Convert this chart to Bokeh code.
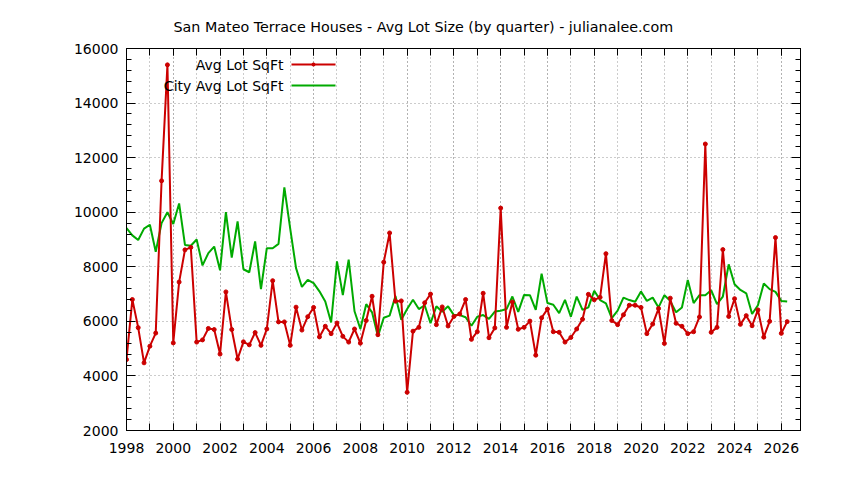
from bokeh.plotting import figure
from bokeh.models import (Range1d, LinearAxis, FixedTicker, Label, Arrow,
                          BoxAnnotation, CustomJSTickFormatter, Title)
from bokeh.embed import file_html
from bokeh.resources import INLINE

TITLE = "San Mateo Terrace Houses - Avg Lot Size (by quarter) - julianalee.com"
SERIES1 = "Avg Lot SqFt"
SERIES2 = "City Avg Lot SqFt"

start_year = 1998
quarter_step = 0.25

avg_lot = [4600, 6800, 5770, 4480, 5090, 5570, 11150, 15400, 5210, 7440,
           8620, 8710, 5240, 5320, 5740, 5700, 4800, 7080, 5700, 4620,
           5250, 5140, 5590, 5120, 5720, 7490, 5980, 5980, 5120, 6520,
           5680, 6170, 6510, 5430, 5820, 5550, 5940, 5450, 5240, 5720,
           5200, 6030, 6920, 5510, 8170, 9240, 6740, 6750, 3400, 5640,
           5780, 6680, 7000, 5880, 6530, 5830, 6180, 6270, 6800, 5340,
           5620, 7030, 5400, 5760, 10150, 5780, 6710, 5710, 5780, 6010,
           4760, 6130, 6450, 5620, 5600, 5240, 5410, 5720, 6080, 6990,
           6790, 6880, 8480, 6030, 5880, 6240, 6590, 6590, 6510, 5550,
           5900, 6470, 5190, 6850, 5930, 5820, 5550, 5620, 6160, 12500,
           5600, 5780, 8630, 6180, 6830, 5890, 6210, 5840, 6420, 5420,
           6000, 9070, 5560, 5990]

city_avg_lot = [9420, 9150, 8980, 9400, 9540, 8550, 9600, 10000, 9570, 10320,
                8800, 8770, 9000, 8050, 8500, 8740, 7870, 10000, 8340, 9660,
                7910, 7800, 8930, 7180, 8680, 8680, 8840, 10910, 9400, 7950,
                7260, 7520, 7400, 7100, 6730, 5960, 8200, 6960, 8260, 6370,
                5720, 6630, 6330, 5450, 6130, 6210, 6930, 6060, 6450, 6790,
                6450, 6590, 5930, 6550, 6350, 6550, 6230, 6230, 6150, 5840,
                6170, 6230, 6090, 6360, 6390, 6450, 6910, 6350, 6970, 6960,
                6420, 7750, 6670, 6610, 6300, 6790, 6170, 6910, 6420, 6510,
                7120, 6780, 6660, 6120, 6390, 6870, 6780, 6720, 7090, 6750,
                6870, 6510, 6960, 6750, 6330, 6510, 7520, 6670, 6960, 6960,
                7140, 6630, 6910, 8090, 7360, 7150, 7030, 6270, 6590, 7390,
                7180, 7080, 6750, 6730]

x_major = [1998, 2000, 2002, 2004, 2006, 2008, 2010, 2012, 2014, 2016,
           2018, 2020, 2022, 2024, 2026]
x_minor = list(range(1998, 2027))
y_major = [2000, 4000, 6000, 8000, 10000, 12000, 14000, 16000]
y_minor = list(range(2000, 16001, 400))

quarters = [start_year + quarter_step * i for i in range(len(avg_lot))]

RED = "#cc0000"
GREEN = "#00aa00"
FONT = "DejaVu Sans"

p = figure(width=828, height=464, output_backend="svg", toolbar_location=None,
           x_range=Range1d(1998, 2026.82), y_range=Range1d(2000, 16000),
           min_border_left=126, min_border_right=28, min_border_top=48,
           min_border_bottom=34, x_axis_location=None, y_axis_location=None)
p.outline_line_color = "black"
p.outline_line_width = 1
p.background_fill_color = "white"
p.border_fill_color = "white"

blank = CustomJSTickFormatter(code="return ''")

def style_axis(ax, ticker, major_in, minor_in, labels=True):
    ax.ticker = ticker
    ax.axis_line_color = "black"
    ax.major_tick_line_color = "black"
    ax.minor_tick_line_color = "black"
    ax.major_tick_in = major_in
    ax.major_tick_out = 0
    ax.minor_tick_in = minor_in
    ax.minor_tick_out = 0
    ax.major_label_text_font = FONT
    ax.major_label_text_font_size = "14px"
    ax.major_label_text_color = "black"
    if not labels:
        ax.formatter = blank
        ax.major_label_standoff = 0

xt = FixedTicker(ticks=x_major, minor_ticks=x_minor)
yt = FixedTicker(ticks=y_major, minor_ticks=y_minor)

bottom = LinearAxis()
style_axis(bottom, xt, 7, 7)
bottom.major_label_standoff = 12
p.add_layout(bottom, "below")
top = LinearAxis()
style_axis(top, FixedTicker(ticks=x_major, minor_ticks=x_minor), 7, 7, labels=False)
p.add_layout(top, "above")
left = LinearAxis()
style_axis(left, yt, 9, 5)
left.major_label_standoff = 8
p.add_layout(left, "left")
right = LinearAxis()
style_axis(right, FixedTicker(ticks=y_major, minor_ticks=y_minor), 9, 5, labels=False)
p.add_layout(right, "right")

p.xgrid.ticker = xt
p.ygrid.ticker = yt
for g in (p.xgrid, p.ygrid):
    g.grid_line_color = "#999999"
    g.grid_line_dash = "1 3"
    g.grid_line_width = 1
p.xgrid.minor_grid_line_color = "#999999"
p.xgrid.minor_grid_line_dash = "1 3"

p.line(quarters, city_avg_lot, color=GREEN, line_width=2)
p.line(quarters, avg_lot, color=RED, line_width=2)
p.scatter(quarters, avg_lot, color=RED, size=4)

# title
p.add_layout(Title(text=TITLE, align="left", offset=47, text_font=FONT,
                   text_font_size="14.3px", text_font_style="normal",
                   text_color="black", standoff=27), "above")

# gnuplot-style legend (text right, sample to the right)
for text, col, yy in ((SERIES1, RED, 366), (SERIES2, GREEN, 345)):
    p.add_layout(Label(x=157, y=yy, x_units="screen", y_units="screen", text=text,
                       text_align="right", text_baseline="middle", text_font=FONT,
                       text_font_size="14px", text_color="black"))
    p.add_layout(Arrow(x_start=165, x_end=209, y_start=yy, y_end=yy,
                       start_units="screen", end_units="screen", start=None, end=None,
                       line_color=col, line_width=2))
p.add_layout(BoxAnnotation(left=185, right=189, bottom=364, top=368,
                           left_units="screen", right_units="screen",
                           bottom_units="screen", top_units="screen",
                           fill_color=RED, fill_alpha=1, line_color=None,
                           border_radius=2))

open("out.html", "w").write(file_html(p, INLINE))
